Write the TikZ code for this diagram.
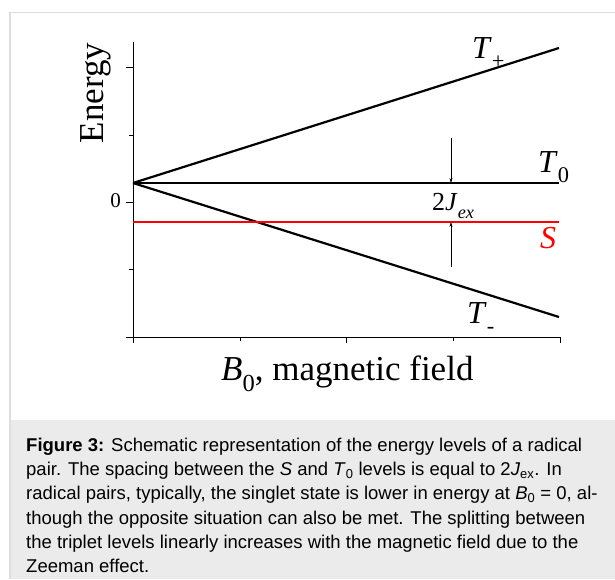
\documentclass[tikz,border=0pt]{standalone}
\usepackage{fontspec}
\setmainfont{Liberation Serif}
\setsansfont{Liberation Sans}
\usetikzlibrary{arrows.meta,positioning}
\definecolor{framegray}{HTML}{DDDDDD}
\definecolor{captiongray}{HTML}{EBEBEB}
\definecolor{singletred}{HTML}{FF0000}
\newcommand{\lowsub}[1]{\raisebox{-0.32em}{\scalebox{0.7}{#1}}}

\begin{document}
\begin{tikzpicture}[
    x=1pt, y=-1pt,
    level/.style={line width=2.2pt},
    axis/.style={line width=0.9pt},
    tick/.style={line width=0.8pt},
    gap/.style={-{Stealth[length=5pt,width=3pt]}, line width=0.5pt},
    levellabel/.style={inner sep=0pt, anchor=base west, font=\fontsize{32}{36}\selectfont}
]
\useasboundingbox (0,0) rectangle (615,579);
% frame and caption panel
\fill[captiongray] (10,420) rectangle (615,579);
\draw[framegray, line width=1.2pt] (10,579) -- (10,12.5) -- (615,12.5);

% axes and ticks
\coordinate (origin) at (133,337);
\coordinate (ytop) at (133,42);
\coordinate (xend) at (560,337);
\draw[axis] (ytop) -- (origin) -- (xend);
\foreach \y/\len in {67/7, 135/4, 202/7, 269/4, 337/7}
  \draw[tick] (133,\y) -- ++(-\len,0);
\foreach \x/\len in {133/6, 240/4, 346/6, 453/4, 560/6}
  \draw[tick] (\x,337) -- ++(0,\len);

% energy levels
\coordinate (start) at (133,183);
\coordinate (tplus) at (559,48);
\coordinate (tzero) at (559,183);
\coordinate (tminus) at (559,317);
\coordinate (sleft) at (133,222);
\coordinate (sright) at (559,222);
\draw[level] (start) -- (tplus);
\draw[level] (start) -- (tzero);
\draw[level] (start) -- (tminus);
\draw[level, singletred, line width=1.8pt] (sleft) -- (sright);

% exchange gap
\coordinate (gaptop) at (451,138);
\coordinate (gapbot) at (451,267);
\draw[gap] (gaptop) -- (gaptop |- start);
\draw[gap] (gapbot) -- (gapbot |- sleft);

% labels
\node[levellabel] (tpluslabel) at (472,58) {\textit{T}\lowsub{+}};
\node[levellabel] (tzerolabel) at (538,172) {\textit{T}\lowsub{0}};
\node[levellabel, text=singletred] (slabel) at (540,248) {\textit{S}};
\node[levellabel] (tminuslabel) at (467,323) {\textit{T}\lowsub{-}};
\node[inner sep=0pt, anchor=base west, font=\fontsize{26}{30}\selectfont] (jlabel) at (432,210) {2\textit{J}\lowsub{\textit{ex}}};
\node[inner sep=0pt, anchor=base east, font=\fontsize{21}{24}\selectfont] (zerolabel) at (121,207) {0};
\node[inner sep=0pt, rotate=90, anchor=base, font=\fontsize{35}{40}\selectfont] (ylabel) at (103,93) {Energy};
\node[inner sep=0pt, anchor=base west, font=\fontsize{35}{40}\selectfont] (xlabel) at (221,380) {\textit{B}\lowsub{0}, magnetic field};

% caption
\node[inner sep=0pt, anchor=north west, align=left, font=\sffamily\fontsize{18.5}{24.3}\selectfont] (caption) at (26,437.5)
  {\textbf{Figure 3:} Schematic representation of the energy levels of a radical\\
   pair. The spacing between the \textit{S} and \textit{T}\textsubscript{0} levels is equal to 2\textit{J}\textsubscript{ex}. In\\
   radical pairs, typically, the singlet state is lower in energy at \textit{B}\textsubscript{0} = 0, al-\\
   though the opposite situation can also be met. The splitting between\\
   the triplet levels linearly increases with the magnetic field due to the\\
   Zeeman effect.};
\end{tikzpicture}
\end{document}
